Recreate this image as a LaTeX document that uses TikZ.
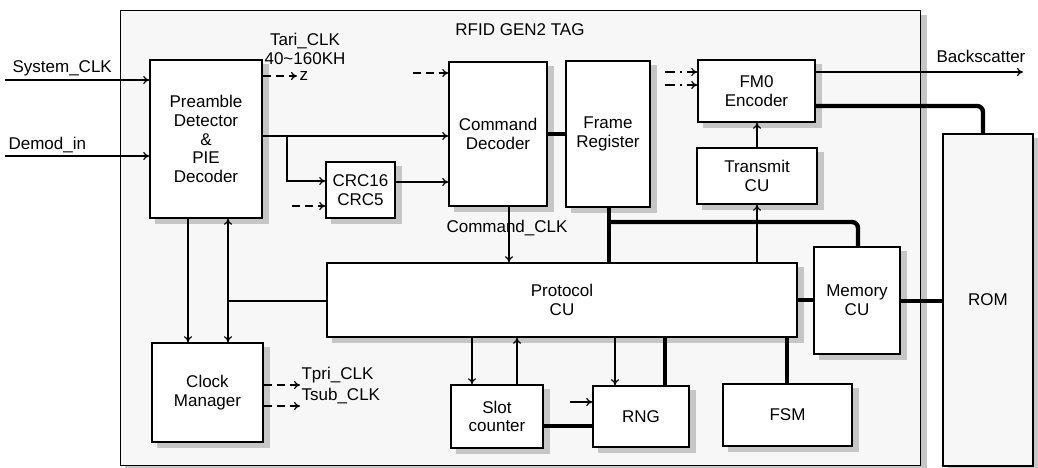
\documentclass[tikz,border=0pt]{standalone}
\usepackage{fontspec}
\setmainfont{Liberation Sans}
\usetikzlibrary{arrows.meta,calc,positioning,backgrounds}
\tikzset{
  blk/.style={draw, thick, fill=white, align=center, inner sep=1pt,
    font=\fontsize{8.5}{9.4}\selectfont},
  lbl/.style={font=\fontsize{8.5}{9.4}\selectfont, inner sep=1pt},
  arr/.style={-{To[length=3pt,width=4pt]}, semithick},
  bus/.style={line width=2.2pt},
  dsh/.style={arr, dashed, dash pattern=on 4pt off 2.5pt},
  dshdot/.style={arr, dash pattern=on 5pt off 2.5pt on 1pt off 2.5pt},
  shade box/.style={draw=gray!45, fill=gray!45, thin},
}

\begin{document}
\begin{tikzpicture}[x=0.5pt, y=-0.5pt, semithick]
  \useasboundingbox (0,0) rectangle (1038,467);

  % Blocks
  \node[blk, minimum width=45pt, minimum height=166pt, fill=gray!6] (rom) at (988,300) {ROM};
  \node[blk, minimum width=56pt, minimum height=79pt] (pre) at (206,139)
    {Preamble\\Detector\\\&\\PIE\\Decoder};
  \node[blk, minimum width=34.5pt, minimum height=28pt] (crc) at (360.5,190) {CRC16\\CRC5};
  \node[blk, minimum width=49pt, minimum height=72pt] (cmd) at (498,134) {Command\\Decoder};
  \node[blk, minimum width=42pt, minimum height=73pt] (frame) at (608,134) {Frame\\Register};
  \node[blk, minimum width=58.5pt, minimum height=31pt] (fm0) at (756.5,91) {FM0\\Encoder};
  \node[blk, minimum width=60pt, minimum height=28pt] (tx) at (757,176) {Transmit\\CU};
  \node[blk, minimum width=235pt, minimum height=37pt] (proto) at (562,300) {Protocol\\CU};
  \node[blk, minimum width=43pt, minimum height=53.5pt] (mem) at (857,300.5) {Memory\\CU};
  \node[blk, minimum width=55.5pt, minimum height=49.5pt] (clk) at (207.5,392.5) {Clock\\Manager};
  \node[blk, minimum width=46pt, minimum height=31.5pt] (slot) at (497,416.5) {Slot\\counter};
  \node[blk, minimum width=48pt, minimum height=30.5pt] (rng) at (641,416.5) {RNG};
  \node[blk, minimum width=64.5pt, minimum height=31pt] (fsm) at (787.5,415) {FSM};
  \node[lbl] (title) at (520,30) {RFID GEN2 TAG};

  % Tag box and shadows behind everything
  \begin{scope}[on background layer]
    \draw[shade box] (125,15) rectangle (926,467);
    \draw[fill=gray!6] (120,10) rectangle (920,465);
    \foreach \n in {rom,pre,crc,cmd,frame,fm0,tx,proto,mem,clk,slot,rng,fsm}
      \draw[shade box] ($(\n.south west)+(6,5)$) rectangle ($(\n.north east)+(6,5)$);
  \end{scope}

  % Inputs
  \coordinate (sysin) at (5,80);
  \coordinate (demin) at (5,156);
  \draw[arr] (sysin) -- (sysin -| pre.west);
  \draw[arr] (demin) -- (demin -| pre.west);
  \node[lbl, anchor=south west] (syslbl) at (10,79) {System\_CLK};
  \node[lbl, anchor=south west] (demlbl) at (6,155) {Demod\_in};

  % Tari clock
  \node[lbl, align=center] (tari) at (305,49) {Tari\_CLK\\40\textasciitilde160KH};
  \coordinate (tariend) at (297,76);
  \draw[dsh] (tariend -| pre.east) -- (tariend);
  \node[lbl, anchor=west] (tariz) at (tariend) {z};

  % Preamble to command decoder / CRC
  \coordinate (brc) at (287,136);
  \draw[arr] (brc -| pre.east) -- (brc -| cmd.west);
  \draw[arr] (brc) -- (287,181) -- (crc.west |- 0,181);
  \coordinate (crcin) at (292,206);
  \draw[dsh] (crcin) -- (crcin -| crc.west);
  \draw[arr] (crc.east |- 0,182) -- (cmd.west |- 0,182);
  \coordinate (cmdin) at (413,73);
  \draw[dsh] (cmdin) -- (cmdin -| cmd.west);
  \draw[bus] (cmd.east |- 0,134) -- (frame.west |- 0,134);

  % Encoder side
  \coordinate (fma) at (665,72);
  \coordinate (fmb) at (665,85);
  \draw[dshdot] (fma) -- (fma -| fm0.west);
  \draw[dshdot] (fmb) -- (fmb -| fm0.west);
  \coordinate (bsout) at (1023,72);
  \draw[arr] (fm0.east |- bsout) -- (bsout);
  \node[lbl, anchor=south east] (bslbl) at (1028,65) {Backscatter};
  \draw[bus, rounded corners=3pt] (fm0.east |- 0,106) -- (983,106) -- (983,0 |- rom.north);
  \draw[arr] (tx.north -| 757,0) -- (fm0.south -| 757,0);
  \draw[arr] (proto.north -| 757,0) -- (tx.south -| 757,0);

  % Bus from frame register
  \draw[bus] (frame.south -| 609,0) -- (proto.north -| 609,0);
  \draw[bus, rounded corners=3pt] (609,222) -- (858,222) -- (mem.north -| 858,0);
  \draw[arr] (cmd.south -| 509,0) -- (proto.north -| 509,0);
  \node[lbl] (cmdclk) at (507,228) {Command\_CLK};
  \draw[bus] (proto.east |- 0,300) -- (mem.west |- 0,300);
  \draw[bus] (mem.east |- 0,301) -- (rom.west |- 0,301);

  % Clock manager
  \draw[arr] (pre.south -| 188,0) -- (clk.north -| 188,0);
  \draw[{To[length=3pt,width=4pt]}-{To[length=3pt,width=4pt]}, semithick]
    (pre.south -| 228,0) -- (clk.north -| 228,0);
  \draw (228,301) -- (proto.west |- 0,301);
  \coordinate (tpri) at (300,385);
  \coordinate (tsub) at (300,406);
  \draw[dsh] (tpri -| clk.east) -- (tpri);
  \draw[dsh] (tsub -| clk.east) -- (tsub);
  \node[lbl, anchor=south west] (tprilbl) at (299,386) {Tpri\_CLK};
  \node[lbl, anchor=south west] (tsublbl) at (299,406) {Tsub\_CLK};

  % Lower blocks
  \draw[arr] (proto.south -| 472,0) -- (slot.north -| 472,0);
  \draw[arr] (slot.north -| 517,0) -- (proto.south -| 517,0);
  \draw[arr] (proto.south -| 615,0) -- (rng.north -| 615,0);
  \draw[bus] (proto.south -| 665,0) -- (rng.north -| 665,0);
  \draw[bus] (proto.south -| 787,0) -- (fsm.north -| 787,0);
  \draw[bus] (slot.east |- 0,426) -- (rng.west |- 0,426);
  \coordinate (rngin) at (570,402);
  \draw[arr] (rngin) -- (rngin -| rng.west);
\end{tikzpicture}
\end{document}
